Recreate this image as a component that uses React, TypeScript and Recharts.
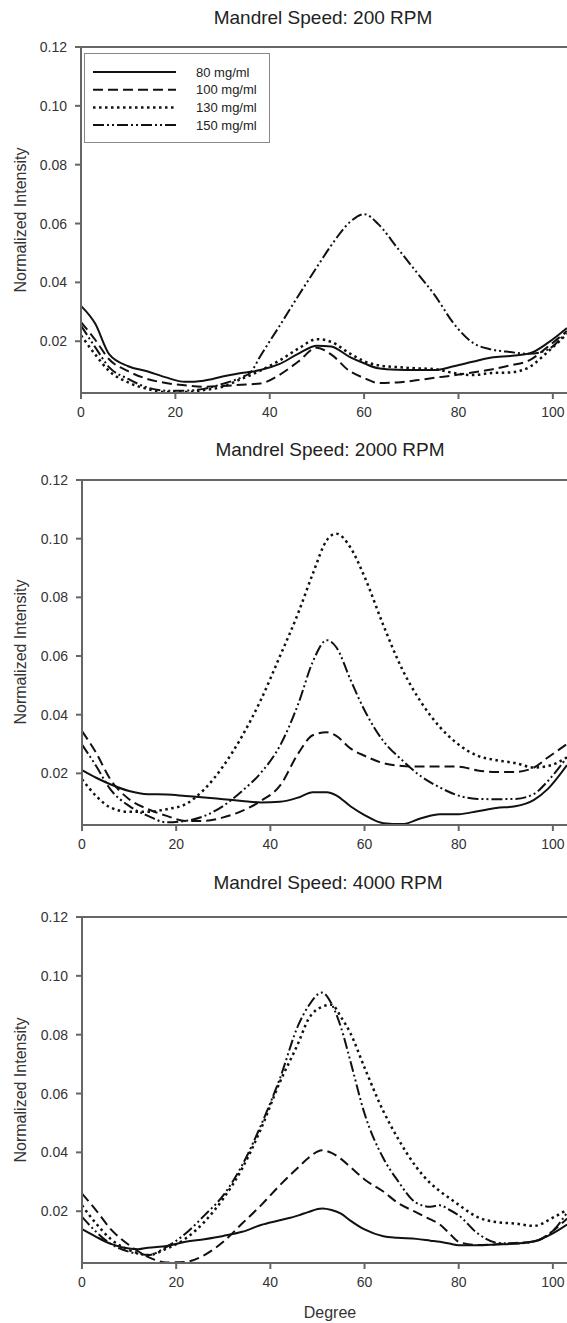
import React from "react";
import { LineChart, Line, XAxis, YAxis, ReferenceLine } from "recharts";

// Mandrel speed 200 RPM
const DEG_200 = [0, 3, 6, 10, 14, 18, 22, 26, 30, 34, 36, 38, 42, 46, 50, 53, 57, 60, 63, 67, 71, 75, 79, 83, 87, 91, 95, 99, 103];
const C80_200 = [0.032, 0.026, 0.0155, 0.0115, 0.0098, 0.0077, 0.0062, 0.0066, 0.008, 0.0092, 0.0096, 0.0102, 0.0122, 0.0157, 0.0185, 0.0182, 0.0146, 0.0125, 0.0108, 0.0103, 0.0102, 0.0102, 0.0115, 0.013, 0.0145, 0.015, 0.0158, 0.0195, 0.0245];
const C100_200 = [0.0265, 0.0205, 0.0138, 0.0098, 0.0072, 0.0058, 0.005, 0.0045, 0.0048, 0.0052, 0.0054, 0.0056, 0.0085, 0.013, 0.0178, 0.0155, 0.0098, 0.0075, 0.0058, 0.006, 0.0067, 0.0076, 0.0084, 0.0094, 0.0104, 0.0118, 0.0135, 0.0182, 0.0235];
const C130_200 = [0.022, 0.0155, 0.0098, 0.006, 0.0038, 0.0027, 0.0027, 0.0034, 0.0045, 0.0072, 0.0085, 0.01, 0.0134, 0.0174, 0.0207, 0.0198, 0.0158, 0.0132, 0.0118, 0.0112, 0.0108, 0.0105, 0.0092, 0.0085, 0.0092, 0.0094, 0.0112, 0.0165, 0.0225];
const C150_200 = [0.0253, 0.018, 0.0111, 0.0072, 0.0043, 0.0032, 0.0032, 0.0038, 0.0055, 0.0077, 0.0095, 0.0149, 0.025, 0.0353, 0.0452, 0.0525, 0.0605, 0.0632, 0.0598, 0.0518, 0.0437, 0.0356, 0.026, 0.0195, 0.0172, 0.0163, 0.0157, 0.0172, 0.0236];

// Mandrel speed 2000 RPM
const DEG_2000 = [0, 3, 6, 10, 14, 18, 22, 26, 30, 34, 38, 42, 46, 49, 52, 54, 57, 60, 64, 68, 72, 76, 80, 84, 88, 92, 96, 99, 103];
const C80_2000 = [0.0211, 0.0185, 0.0163, 0.014, 0.0129, 0.0128, 0.0123, 0.0118, 0.0112, 0.0106, 0.0101, 0.0103, 0.0118, 0.0136, 0.0136, 0.0125, 0.0088, 0.0058, 0.003, 0.0027, 0.0047, 0.0061, 0.0061, 0.0071, 0.0082, 0.0088, 0.011, 0.0148, 0.0228];
const C100_2000 = [0.0344, 0.027, 0.018, 0.0112, 0.0078, 0.0055, 0.0038, 0.0038, 0.005, 0.0072, 0.0106, 0.0157, 0.027, 0.033, 0.034, 0.0328, 0.0285, 0.026, 0.0235, 0.0225, 0.0223, 0.0223, 0.0223, 0.021, 0.0205, 0.0205, 0.022, 0.0255, 0.03];
const C130_2000 = [0.018, 0.0123, 0.0084, 0.0069, 0.0069, 0.0078, 0.0095, 0.0146, 0.0225, 0.0327, 0.0451, 0.0598, 0.075, 0.088, 0.0995, 0.1017, 0.097, 0.087, 0.0705, 0.0555, 0.0443, 0.0358, 0.0298, 0.026, 0.0245, 0.0235, 0.022, 0.0225, 0.0255];
const C150_2000 = [0.0298, 0.0225, 0.0146, 0.0089, 0.0055, 0.0033, 0.0038, 0.0055, 0.0089, 0.014, 0.0202, 0.0293, 0.044, 0.058, 0.0654, 0.063, 0.052, 0.0415, 0.031, 0.0245, 0.019, 0.0152, 0.0124, 0.0113, 0.0112, 0.0113, 0.013, 0.0175, 0.0255];

// Mandrel speed 4000 RPM
const DEG_4000 = [0, 3, 6, 10, 12, 14, 18, 22, 26, 30, 34, 38, 42, 46, 48, 51, 53, 55, 57, 60, 64, 67, 71, 74, 76, 78, 80, 84, 88, 92, 96, 100, 103];
const C80_4000 = [0.0139, 0.0113, 0.009, 0.0073, 0.0071, 0.0076, 0.0082, 0.0096, 0.0105, 0.0116, 0.013, 0.0153, 0.0169, 0.0186, 0.0197, 0.0209, 0.0204, 0.0192, 0.0168, 0.0138, 0.0115, 0.011, 0.0106, 0.01, 0.0096, 0.009, 0.0084, 0.0084, 0.0087, 0.009, 0.0098, 0.0125, 0.0155];
const C100_4000 = [0.026, 0.0203, 0.0141, 0.0085, 0.0063, 0.0045, 0.0026, 0.0028, 0.0051, 0.0096, 0.0158, 0.022, 0.0288, 0.035, 0.038, 0.0407, 0.0398, 0.0378, 0.035, 0.0308, 0.0267, 0.0229, 0.0196, 0.0172, 0.0155, 0.0125, 0.0096, 0.0085, 0.0088, 0.0092, 0.0097, 0.0133, 0.0175];
const C130_4000 = [0.022, 0.0158, 0.0107, 0.0068, 0.0057, 0.0051, 0.0073, 0.0107, 0.0164, 0.0243, 0.0345, 0.048, 0.0638, 0.0774, 0.085, 0.0895, 0.0902, 0.086, 0.0805, 0.0688, 0.054, 0.045, 0.035, 0.0295, 0.0268, 0.0245, 0.0222, 0.018, 0.0163, 0.0158, 0.015, 0.0178, 0.0205];
const C150_4000 = [0.0181, 0.013, 0.009, 0.0062, 0.0055, 0.0051, 0.0079, 0.0124, 0.0186, 0.0254, 0.0356, 0.0492, 0.065, 0.0835, 0.0895, 0.0943, 0.0905, 0.0825, 0.071, 0.0532, 0.038, 0.0305, 0.0228, 0.0215, 0.022, 0.0205, 0.0186, 0.0125, 0.0093, 0.009, 0.0097, 0.0133, 0.0195];

const X_TICKS = [0, 20, 40, 60, 80, 100];
const Y_TICKS = [0.02, 0.04, 0.06, 0.08, 0.1, 0.12];

const SERIES = [
  { key: "c80", name: "80 mg/ml", dash: undefined as string | undefined, width: 2 },
  { key: "c100", name: "100 mg/ml", dash: "10 5", width: 2 },
  { key: "c130", name: "130 mg/ml", dash: "2.5 3.5", width: 2.5 },
  { key: "c150", name: "150 mg/ml", dash: "11 3 2 3 2 3", width: 2 },
];

const FONT = '"Liberation Sans", Arial, sans-serif';
const AXIS = "#666";
const TEXT = "#333";

function rows(deg: number[], a: number[], b: number[], c: number[], d: number[]) {
  return deg.map((x, i) => ({ deg: x, c80: a[i], c100: b[i], c130: c[i], c150: d[i] }));
}

// legend box drawn over the first panel, like the inset key in the original figure
function LegendBox() {
  return (
    <div style={{ position: "absolute", left: 84, top: 53, width: 184, height: 88, border: "1.5px solid #888", background: "#fff", fontFamily: FONT }}>
      <svg width={184} height={88} style={{ position: "absolute", left: 0, top: 0 }}>
        {SERIES.map((s, i) => (
          <g key={s.key}>
            <line x1={8} x2={91} y1={18 + i * 17.7} y2={18 + i * 17.7} stroke="#111" strokeWidth={s.width} strokeDasharray={s.dash} />
            <text x={111} y={18 + i * 17.7} dy="0.35em" fontSize={13} fill="#222">{s.name}</text>
          </g>
        ))}
      </svg>
    </div>
  );
}

interface PanelProps {
  top: number;
  height: number;
  marginTop: number;
  marginBottom: number;
  axisWidth: number;
  xHeight: number;
  data: Array<Record<string, number>>;
}

function Panel({ top, height, marginTop, marginBottom, axisWidth, xHeight, data }: PanelProps) {
  return (
    <div style={{ position: "absolute", left: 0, top }}>
      <LineChart width={567} height={height} data={data} margin={{ top: marginTop, right: 0, bottom: marginBottom, left: 0 }}>
        <XAxis
          dataKey="deg"
          type="number"
          domain={[0, 103]}
          ticks={X_TICKS}
          allowDataOverflow
          height={xHeight}
          tickSize={6}
          tickMargin={8}
          stroke={AXIS}
          strokeWidth={2}
          tick={{ fill: TEXT, fontSize: 14, fontFamily: FONT }}
        />
        <YAxis
          type="number"
          domain={[0.0024, 0.12]}
          ticks={Y_TICKS}
          allowDataOverflow
          width={axisWidth}
          tickSize={6}
          tickMargin={8}
          stroke={AXIS}
          strokeWidth={2}
          tickFormatter={(v: number) => v.toFixed(2)}
          tick={{ fill: TEXT, fontSize: 14, fontFamily: FONT }}
        />
        <ReferenceLine y={0.12} stroke={AXIS} strokeWidth={2} />
        {SERIES.map((s) => (
          <Line
            key={s.key}
            dataKey={s.key}
            name={s.name}
            type="monotone"
            stroke="#111"
            strokeWidth={s.width}
            strokeDasharray={s.dash}
            dot={false}
            activeDot={false}
            isAnimationActive={false}
          />
        ))}
      </LineChart>
    </div>
  );
}

const titleStyle = (cx: number, cy: number): React.CSSProperties => ({
  position: "absolute",
  left: cx - 200,
  top: cy - 11,
  width: 400,
  lineHeight: "22px",
  textAlign: "center",
  fontSize: 19,
  color: "#222",
  fontFamily: FONT,
});

const yLabelStyle = (cy: number): React.CSSProperties => ({
  position: "absolute",
  left: 21 - 150,
  top: cy - 10,
  width: 300,
  lineHeight: "20px",
  textAlign: "center",
  fontSize: 16,
  color: TEXT,
  fontFamily: FONT,
  transform: "rotate(-90deg)",
});

export default function App() {
  return (
    <div style={{ position: "absolute", left: 0, top: 0, width: 567, height: 1323, background: "#fff", overflow: "hidden" }}>
      <Panel top={0} height={440} marginTop={47} marginBottom={7} axisWidth={81} xHeight={40} data={rows(DEG_200, C80_200, C100_200, C130_200, C150_200)} />
      <Panel top={440} height={440} marginTop={40} marginBottom={15} axisWidth={82} xHeight={40} data={rows(DEG_2000, C80_2000, C100_2000, C130_2000, C150_2000)} />
      <Panel top={880} height={443} marginTop={37} marginBottom={0} axisWidth={82} xHeight={60} data={rows(DEG_4000, C80_4000, C100_4000, C130_4000, C150_4000)} />

      <LegendBox />

      <div style={titleStyle(323, 18)}>Mandrel Speed: 200 RPM</div>
      <div style={titleStyle(330, 450)}>Mandrel Speed: 2000 RPM</div>
      <div style={titleStyle(328, 883)}>Mandrel Speed: 4000 RPM</div>

      <div style={yLabelStyle(220)}>Normalized Intensity</div>
      <div style={yLabelStyle(652)}>Normalized Intensity</div>
      <div style={yLabelStyle(1090)}>Normalized Intensity</div>

      <div style={{ position: "absolute", left: 230, top: 1303, width: 200, lineHeight: "20px", textAlign: "center", fontSize: 16, color: TEXT, fontFamily: FONT }}>Degree</div>
    </div>
  );
}
